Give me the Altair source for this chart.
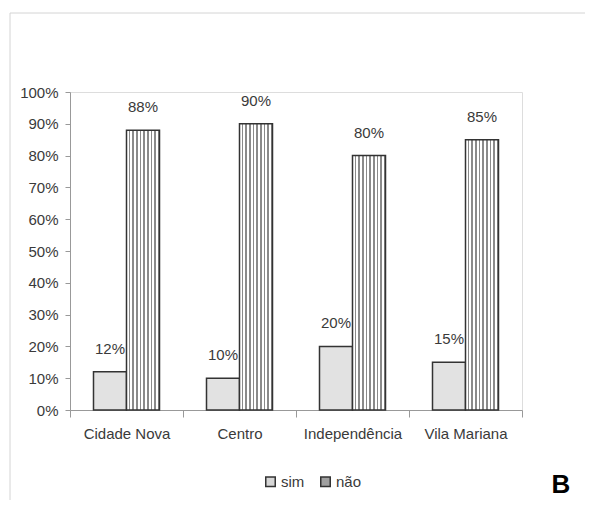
import altair as alt
import pandas as pd

categories = ["Cidade Nova", "Centro", "Independência", "Vila Mariana"]
sim_values = [12, 10, 20, 15]
nao_values = [88, 90, 80, 85]
series_names = ["sim", "não"]

rows = []
for c, s, n in zip(categories, sim_values, nao_values):
    rows.append({"bairro": c, "serie": "sim", "v": s / 100})
    rows.append({"bairro": c, "serie": "não", "v": n / 100})
df = pd.DataFrame(rows)

FONT = "Liberation Sans"
FS = 15
TXT = "#3a3a3a"

# vertical stripes for "não"
stops = []
n = 9
for i in range(n):
    a = i / n
    b = (i + 0.62) / n
    c = (i + 1) / n
    stops += [
        alt.GradientStop(offset=a, color="#ffffff"),
        alt.GradientStop(offset=b, color="#ffffff"),
        alt.GradientStop(offset=b, color="#8a8a8a"),
        alt.GradientStop(offset=c, color="#8a8a8a"),
    ]
stripes = alt.LinearGradient(gradient="linear", stops=stops, x1=0, x2=1, y1=0, y2=0)

x_enc = alt.X("bairro:N", sort=categories,
              scale=alt.Scale(paddingInner=0, paddingOuter=0),
              axis=alt.Axis(title=None, labelAngle=0, labelFont=FONT, labelFontSize=FS,
                            labelColor=TXT, tickBand="extent", tickSize=7,
                            tickColor="#999999", domainColor="#999999",
                            labelPadding=9))
y_enc = alt.Y("v:Q", scale=alt.Scale(domain=[0, 1]),
              axis=alt.Axis(title=None, format=".0%", values=[i / 10 for i in range(11)],
                            grid=False, labelFont=FONT, labelFontSize=FS, labelColor=TXT,
                            tickSize=5, tickColor="#999999", domainColor="#999999",
                            labelPadding=7))
xo = alt.XOffset("serie:N", sort=series_names,
                 scale=alt.Scale(domain=series_names, paddingInner=0, paddingOuter=0.712))

base = alt.Chart(df)

bars_sim = base.transform_filter(alt.datum.serie == "sim").mark_bar(
    fill="#e2e2e2", stroke="#333333", strokeWidth=1.5
).encode(x=x_enc, y=y_enc, xOffset=xo)

bars_nao = base.transform_filter(alt.datum.serie == "não").mark_bar(
    fill=stripes, stroke="#333333", strokeWidth=1.5
).encode(x=x_enc, y=y_enc, xOffset=xo)

legend_layer = base.mark_bar(opacity=0).encode(
    x=x_enc, y=y_enc, xOffset=xo,
    fill=alt.Fill("serie:N", sort=series_names,
                  scale=alt.Scale(domain=series_names, range=["#d6d6d6", "#a0a0a0"]),
                  legend=alt.Legend(title=None, orient="none", legendX=193, legendY=382,
                                    direction="horizontal", symbolType="square",
                                    symbolSize=90, symbolOpacity=1,
                                    symbolStrokeColor="#333333", symbolStrokeWidth=1.5,
                                    labelFont=FONT, labelFontSize=FS, labelColor=TXT,
                                    labelOffset=3, columnPadding=12))
)

labels = base.mark_text(font=FONT, fontSize=FS, color=TXT, baseline="middle", dy=-23).encode(
    x=x_enc, y=y_enc, xOffset=xo, text=alt.Text("v:Q", format=".0%")
)

one = pd.DataFrame({"t": ["B"]})
frame_left = alt.Chart(one).mark_rule(color="#d4d4d4", strokeWidth=1).encode(
    x=alt.value(-60), y=alt.value(-79), y2=alt.value(420))
frame_top = alt.Chart(one).mark_rule(color="#d4d4d4", strokeWidth=1).encode(
    x=alt.value(-60), x2=alt.value(520), y=alt.value(-79))
letter = alt.Chart(one).mark_text(font="Liberation Sans", fontSize=26, fontWeight="bold",
                                  color="#000000").encode(
    x=alt.value(491), y=alt.value(393), text="t:N")

chart = alt.layer(frame_left, frame_top, bars_sim, bars_nao, legend_layer, labels, letter).properties(
    width=452, height=318,
    autosize=alt.AutoSizeParams(type="none"),
    padding={"left": 62, "top": 84, "right": 63, "bottom": 90},
).configure_view(stroke="#dadada", strokeWidth=1).configure(background="white")

chart.save("out.html", embed_options={"renderer": "svg", "actions": False})
